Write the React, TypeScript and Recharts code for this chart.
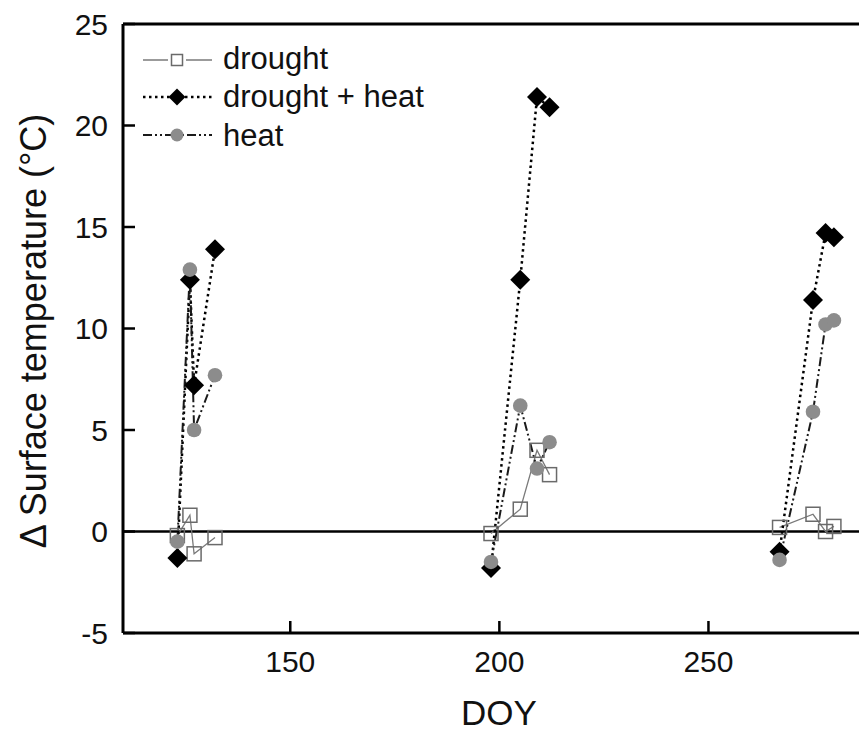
import React from 'react';
import { LineChart, Line, XAxis, YAxis, ReferenceLine } from 'recharts';

// day of year of each measurement and the campaign it belongs to
const doy = [123, 126, 127, 132, 198, 205, 209, 212, 267, 275, 278, 280];
const campaign = [1, 1, 1, 1, 2, 2, 2, 2, 3, 3, 3, 3];

// delta surface temperature (°C)
const drought = [-0.2, 0.8, -1.1, -0.3, -0.1, 1.1, 4.0, 2.8, 0.2, 0.85, 0.0, 0.25];
const droughtHeat = [-1.3, 12.4, 7.2, 13.9, -1.8, 12.4, 21.4, 20.9, -1.0, 11.4, 14.7, 14.5];
const heat = [-0.5, 12.9, 5.0, 7.7, -1.5, 6.2, 3.1, 4.4, -1.4, 5.9, 10.2, 10.4];

const xTicks = [150, 200, 250];
const yTicks = [-5, 0, 5, 10, 15, 20, 25];

const FONT = '"Liberation Sans", Arial, Helvetica, sans-serif';
const GREY_LINE = '#7a7a7a';
const GREY_DOT = '#8c8c8c';

// empty row between campaigns so the lines break there
const data: any[] = [];
doy.forEach((d, i) => {
  if (i > 0 && campaign[i] !== campaign[i - 1]) {
    data.push({ doy: (doy[i - 1] + d) / 2, drought: null, droughtHeat: null, heat: null });
  }
  data.push({ doy: d, drought: drought[i], droughtHeat: droughtHeat[i], heat: heat[i] });
});

const SquareDot = (props: any) => {
  const { cx, cy, index } = props;
  if (cx == null || cy == null) return <g key={`sq-${index}`} />;
  return (
    <rect key={`sq-${index}`} x={cx - 7} y={cy - 7} width={14} height={14}
      fill="none" stroke="#6a6a6a" strokeWidth={1.5} />
  );
};

const DiamondDot = (props: any) => {
  const { cx, cy, index } = props;
  if (cx == null || cy == null) return <g key={`dm-${index}`} />;
  const r = 10;
  return (
    <path key={`dm-${index}`} d={`M${cx},${cy - r}L${cx + r},${cy}L${cx},${cy + r}L${cx - r},${cy}Z`} fill="#000" />
  );
};

const CircleDot = (props: any) => {
  const { cx, cy, index } = props;
  if (cx == null || cy == null) return <g key={`ci-${index}`} />;
  return <circle key={`ci-${index}`} cx={cx} cy={cy} r={7.3} fill={GREY_DOT} />;
};

const XTick = ({ x, y, payload }: any) => (
  <g>
    <line x1={x} x2={x} y1={y} y2={y - 12} stroke="#000" strokeWidth={2.5} />
    <text x={x} y={y + 39} textAnchor="middle" fontSize={30} fontFamily={FONT} fill="#111">
      {payload.value}
    </text>
  </g>
);

const YTick = ({ x, y, payload }: any) => (
  <g>
    <line x1={x} x2={x + 12} y1={y} y2={y} stroke="#000" strokeWidth={2.5} />
    <text x={x - 15} y={y} dy="0.36em" textAnchor="end" fontSize={30} fontFamily={FONT} fill="#111">
      {payload.value}
    </text>
  </g>
);

const DOTTED = '2.5 3.5';
const DASH_DOT_DOT = '9 3 2 3 2 3';

export default function App() {
  return (
    <div style={{ position: 'absolute', left: 0, top: 0, width: 860, height: 733, background: '#fff' }}>
      <LineChart width={860} height={733} data={data} margin={{ top: 24, right: 1, bottom: 0, left: 0 }}>
        <XAxis
          dataKey="doy"
          type="number"
          domain={[110, 286]}
          ticks={xTicks}
          height={100}
          tickSize={0}
          tickMargin={0}
          tickLine={false}
          axisLine={{ stroke: '#000', strokeWidth: 3 }}
          tick={<XTick />}
        />
        <YAxis
          type="number"
          domain={[-5, 25]}
          ticks={yTicks}
          width={123}
          tickSize={0}
          tickMargin={0}
          tickLine={false}
          axisLine={{ stroke: '#000', strokeWidth: 3 }}
          tick={<YTick />}
        />
        <ReferenceLine y={25} stroke="#000" strokeWidth={3} />
        <ReferenceLine y={0} stroke="#000" strokeWidth={2.5} />
        <Line
          type="linear"
          dataKey="drought"
          stroke={GREY_LINE}
          strokeWidth={1.3}
          dot={SquareDot}
          activeDot={false}
          isAnimationActive={false}
        />
        <Line
          type="linear"
          dataKey="droughtHeat"
          stroke="#000"
          strokeWidth={2.5}
          strokeDasharray={DOTTED}
          dot={DiamondDot}
          activeDot={false}
          isAnimationActive={false}
        />
        <Line
          type="linear"
          dataKey="heat"
          stroke="#1a1a1a"
          strokeWidth={2}
          strokeDasharray={DASH_DOT_DOT}
          dot={CircleDot}
          activeDot={false}
          isAnimationActive={false}
        />
      </LineChart>

      {/* legend and axis titles */}
      <svg width={860} height={733} style={{ position: 'absolute', left: 0, top: 0, pointerEvents: 'none' }}>
        <g fontFamily={FONT} fontSize={31} fill="#111">
          <line x1={143} x2={168} y1={60} y2={60} stroke={GREY_LINE} strokeWidth={1.5} />
          <rect x={171.5} y={54.5} width={11} height={11} fill="none" stroke="#6a6a6a" strokeWidth={1.5} />
          <line x1={186} x2={212} y1={60} y2={60} stroke={GREY_LINE} strokeWidth={1.5} />
          <text x={223} y={69}>drought</text>

          <line x1={143} x2={212} y1={97} y2={97} stroke="#000" strokeWidth={2.5} strokeDasharray={DOTTED} />
          <path d="M177,88.5L185.5,97L177,105.5L168.5,97Z" fill="#000" />
          <text x={223} y={107}>drought + heat</text>

          <line x1={143} x2={212} y1={135} y2={135} stroke="#1a1a1a" strokeWidth={2} strokeDasharray={DASH_DOT_DOT} />
          <circle cx={177} cy={135} r={6.5} fill={GREY_DOT} />
          <text x={223} y={146}>heat</text>

          <text x={499} y={725} textAnchor="middle" fontSize={35}>DOY</text>
          <text
            x={46}
            y={331}
            textAnchor="middle"
            fontSize={36}
            transform="rotate(-90 46 331)"
          >
            Δ Surface temperature (°C)
          </text>
        </g>
      </svg>
    </div>
  );
}
